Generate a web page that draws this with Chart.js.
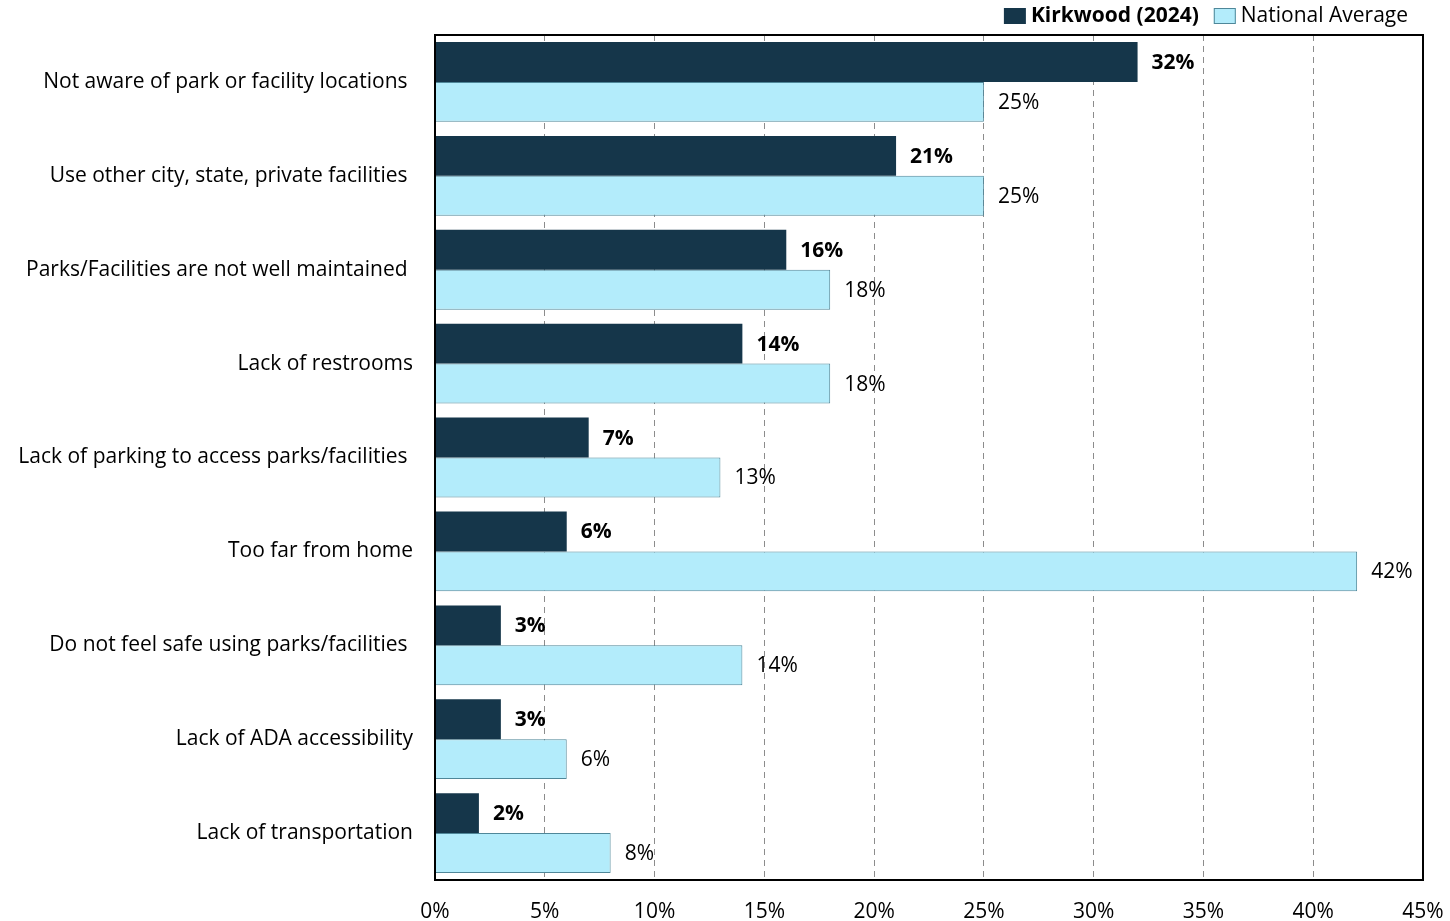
<!DOCTYPE html>
<html>
<head>
<meta charset="utf-8">
<script src="https://cdn.jsdelivr.net/npm/chart.js@4"></script>
<style>
  body { margin: 0; background: #fff; }
</style>
</head>
<body>
<canvas id="myChart" width="1450" height="921"></canvas>
<script>
// data
var categories = [
    'Not aware of park or facility locations ',
    'Use other city, state, private facilities ',
    'Parks/Facilities are not well maintained ',
    'Lack of restrooms',
    'Lack of parking to access parks/facilities ',
    'Too far from home',
    'Do not feel safe using parks/facilities ',
    'Lack of ADA accessibility',
    'Lack of transportation'
];
var kirkwood = [32, 21, 16, 14, 7, 6, 3, 3, 2];
var national = [25, 25, 18, 18, 13, 42, 14, 6, 8];
var seriesNames = ['Kirkwood (2024)', 'National Average'];

var FONT = "'Open Sans', sans-serif";
var FSIZE = 21;
var DARK = '#15364a';
var LIGHT = '#b3ecfb';
var LIGHT_EDGE = '#4f8799';

// value labels at the end of each bar
var barLabels = {
    id: 'barLabels',
    afterDatasetsDraw: function(chart) {
        var ctx = chart.ctx;
        ctx.save();
        ctx.fillStyle = '#000';
        ctx.textBaseline = 'middle';
        ctx.textAlign = 'left';
        chart.data.datasets.forEach(function(ds, i) {
            var meta = chart.getDatasetMeta(i);
            ctx.font = (i === 0 ? 'bold ' : '') + FSIZE + 'px ' + FONT;
            meta.data.forEach(function(bar, j) {
                ctx.fillText(ds.data[j] + '%', bar.x + 14, bar.y + 1);
            });
        });
        ctx.restore();
    }
};

// black frame round the plot + legend at top right
var frameAndLegend = {
    id: 'frameAndLegend',
    afterDraw: function(chart) {
        var ctx = chart.ctx;
        var a = chart.chartArea;
        ctx.save();
        ctx.strokeStyle = '#000';
        ctx.lineWidth = 2;
        ctx.strokeRect(a.left, a.top, a.right - a.left, a.bottom - a.top);

        // legend, drawn right to left
        var fills = [DARK, LIGHT];
        var x = 1408;
        var y = 16;
        for (var i = seriesNames.length - 1; i >= 0; i--) {
            ctx.font = (i === 0 ? 'bold ' : '') + FSIZE + 'px ' + FONT;
            var w = ctx.measureText(seriesNames[i]).width;
            ctx.fillStyle = '#000';
            ctx.textBaseline = 'middle';
            ctx.textAlign = 'left';
            ctx.fillText(seriesNames[i], x - w, y);
            x = x - w - 5;
            ctx.fillStyle = fills[i];
            ctx.fillRect(x - 22, y - 8, 22, 16);
            if (i === 1) {
                ctx.strokeStyle = LIGHT_EDGE;
                ctx.lineWidth = 1;
                ctx.strokeRect(x - 21.5, y - 7.5, 21, 15);
            }
            x = x - 22 - 15;
        }
        ctx.restore();
    }
};

var ctx = document.getElementById('myChart').getContext('2d');
var chart = new Chart(ctx, {
    type: 'bar',
    data: {
        labels: categories,
        datasets: [{
            label: seriesNames[0],
            data: kirkwood,
            backgroundColor: DARK,
            borderColor: DARK,
            borderWidth: 0
        }, {
            label: seriesNames[1],
            data: national,
            backgroundColor: LIGHT,
            borderColor: LIGHT_EDGE,
            borderWidth: 1
        }]
    },
    options: {
        indexAxis: 'y',
        responsive: false,
        animation: false,
        devicePixelRatio: 1,
        layout: { padding: { top: 35, right: 27, left: 0, bottom: 0 } },
        datasets: {
            bar: { categoryPercentage: 0.85, barPercentage: 1.0 }
        },
        plugins: {
            legend: { display: false },
            tooltip: { enabled: false }
        },
        scales: {
            x: {
                min: 0,
                max: 45,
                ticks: {
                    stepSize: 5,
                    color: '#000',
                    padding: 19,
                    maxRotation: 0,
                    font: { family: FONT, size: FSIZE },
                    callback: function(v) { return v + '%'; }
                },
                grid: {
                    color: '#8c8c8c',
                    drawTicks: false
                },
                border: { display: false, dash: [6, 5] },
                afterFit: function(scale) {
                    scale.height = 41;
                    scale.paddingLeft = 0;
                    scale.paddingRight = 0;
                }
            },
            y: {
                ticks: {
                    color: '#000',
                    padding: 22,
                    font: { family: FONT, size: FSIZE }
                },
                grid: { display: false, drawTicks: false },
                border: { display: false },
                afterFit: function(scale) { scale.width = 435; }
            }
        }
    },
    plugins: [barLabels, frameAndLegend]
});
</script>
</body>
</html>
